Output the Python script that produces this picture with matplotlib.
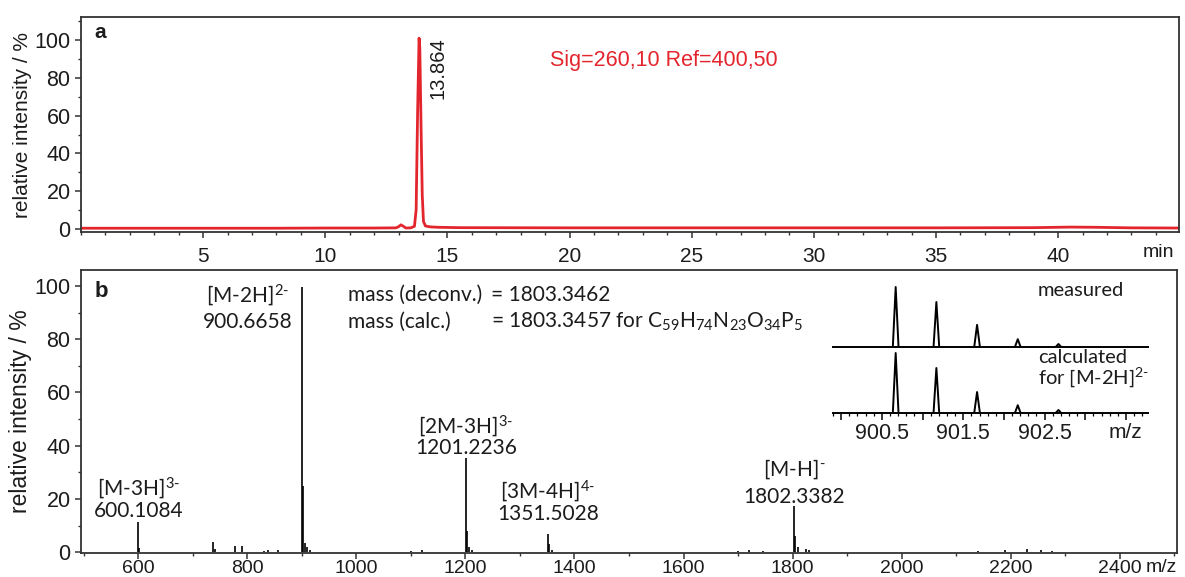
import numpy as np
import matplotlib.pyplot as plt
from matplotlib.ticker import MultipleLocator

plt.rcParams['font.family'] = ['Liberation Sans', 'DejaVu Sans']
plt.rcParams['mathtext.fontset'] = 'custom'
plt.rcParams['mathtext.rm'] = 'Lato'
plt.rcParams['mathtext.it'] = 'Lato:italic'
plt.rcParams['mathtext.bf'] = 'Lato:bold'

# chromatogram (panel a)
rt = [0, 2, 5, 8, 10, 12, 12.9, 13.0, 13.1, 13.2, 13.3, 13.5, 13.65, 13.72, 13.78,
      13.84, 13.87, 13.92, 13.97, 14.02, 14.1, 14.3, 14.6, 15.5, 20, 25, 30, 35,
      39, 40.5, 41.5, 43, 45]
uv = [0.4, 0.4, 0.4, 0.4, 0.5, 0.5, 0.6, 1.2, 2.2, 1.4, 0.5, 0.6, 1.4, 10, 62,
      101, 96, 55, 18, 4, 1.6, 1.1, 0.9, 0.7, 0.6, 0.6, 0.6, 0.6, 0.7, 1.0, 0.9, 0.6, 0.5]
rt_peak = 13.864

# mass spectrum (panel b), centroid sticks
ms_mz = [600.11, 602, 737, 741, 778, 790, 830, 838, 856, 900.67, 903, 906, 910, 915,
         1100, 1120, 1201.22, 1203, 1207, 1212, 1351.50, 1354, 1358, 1700, 1720, 1745,
         1802.34, 1805, 1810, 1825, 1830, 2140, 2190, 2230, 2255, 2275]
ms_int = [11.5, 1.5, 3.7, 1.2, 2.3, 2.3, 0.6, 0.9, 0.8, 99.5, 25, 3.5, 2.0, 1.0,
          0.5, 0.8, 35.5, 8, 2, 1, 7, 3, 1, 0.5, 0.8, 0.6,
          17.2, 6, 2, 1.2, 1.0, 0.5, 0.8, 1.2, 1.0, 0.5]

ion_mz = [600.1084, 900.6658, 1201.2236, 1351.5028, 1802.3382]
ion_name = [r'[M-3H]$^{3\text{-}}$', r'[M-2H]$^{2\text{-}}$', r'[2M-3H]$^{3\text{-}}$',
            r'[3M-4H]$^{4\text{-}}$', r'[M-H]$^{\text{-}}$']
ion_x = [600.1, 800, 1201.2, 1351.5, 1802.3]
ion_y = [24, 96.6, 47.2, 22.8, 31]
ion_y2 = [15.4, 86.5, 39.3, 14.2, 20.6]

# isotope pattern inset
iso_mz = [900.67, 901.17, 901.67, 902.17, 902.67]
iso_meas = [100, 75, 37, 13, 5]
iso_calc = [100, 75, 35, 13, 5]

red = '#e3262e'
ink = '#1c1c1c'

fig = plt.figure(figsize=(11.85, 5.77), dpi=100)
ax1 = fig.add_axes([81/1185, 1-232/577, 1098/1185, 215/577])
ax2 = fig.add_axes([81/1185, 1-553/577, 1096/1185, 283/577])

for ax in (ax1, ax2):
    for s in ax.spines.values():
        s.set_linewidth(1.3)
        s.set_color('#333333')
    ax.tick_params(which='major', direction='out', length=4.5, width=1.1, color='#333333',
                   labelcolor=ink, top=False, right=False)
    ax.tick_params(which='minor', direction='out', length=2.5, width=1.0, color='#333333',
                   top=False, right=False)

# ---- panel a
ax1.plot(rt, uv, color=red, lw=2.0)
ax1.set_xlim(0, 44.95)
ax1.set_ylim(-1.6, 112.2)
ax1.xaxis.set_major_locator(MultipleLocator(5))
ax1.xaxis.set_minor_locator(MultipleLocator(1))
ax1.yaxis.set_major_locator(MultipleLocator(20))
ax1.yaxis.set_minor_locator(MultipleLocator(10))
ax1.set_xticks([5, 10, 15, 20, 25, 30, 35, 40])
ax1.tick_params(axis='x', labelsize=15, pad=6)
ax1.tick_params(axis='y', labelsize=15.5, pad=3)
ax1.set_ylabel('relative intensity / %', fontsize=15, color=ink, labelpad=2)
ax1.text(0.012, 0.93, 'a', transform=ax1.transAxes, fontsize=15, fontweight='bold',
         color=ink, va='center')
ax1.text(rt_peak + 0.35, 101.5, f'{rt_peak:.3f}', rotation=90, ha='left', va='top',
         fontsize=14.5, color=ink)
ax1.text(19.2, 89, 'Sig=260,10 Ref=400,50', color=red, fontsize=15.5, va='center')
ax1.text(44.1, -12.2, 'min', fontsize=14, color=ink, ha='center', va='center')

# ---- panel b
ax2.vlines(ms_mz, 0, ms_int, color='black', lw=1.2)
ax2.set_xlim(495, 2505)
ax2.set_ylim(-0.3, 106)
ax2.xaxis.set_major_locator(MultipleLocator(200))
ax2.xaxis.set_minor_locator(MultipleLocator(100))
ax2.yaxis.set_major_locator(MultipleLocator(20))
ax2.yaxis.set_minor_locator(MultipleLocator(10))
ax2.set_xticks(np.arange(600, 2401, 200))
ax2.tick_params(axis='x', labelsize=14, pad=0.5)
ax2.tick_params(axis='y', labelsize=15.5, pad=3)
ax2.set_ylabel('relative intensity / %', fontsize=16.5, color=ink, labelpad=2)
ax2.text(0.012, 0.925, 'b', transform=ax2.transAxes, fontsize=16, fontweight='bold',
         color=ink, va='center')
ax2.text(2477, -5.6, 'm/z', fontsize=14, color=ink, ha='center', va='center')

lab = dict(fontsize=15, color=ink, family='Lato', ha='center', va='center')
for x, name, m, y1, y2 in zip(ion_x, ion_name, ion_mz, ion_y, ion_y2):
    ax2.text(x, y1, name, **lab)
    ax2.text(x, y2, f'{m:.4f}', **lab)

left = dict(fontsize=15, color=ink, family='Lato', ha='left', va='center')
ax2.text(984, 96.6, 'mass (deconv.)', **left)
ax2.text(1247, 96.6, '= 1803.3462', **left)
ax2.text(984, 86.5, 'mass (calc.)', **left)
ax2.text(1247, 86.5, '= 1803.3457 for C$_{59}$H$_{74}$N$_{23}$O$_{34}$P$_{5}$', **left)

# ---- inset: isotope pattern
axm = fig.add_axes([833/1185, 1-347/577, 315/1185, 67/577])
axc = fig.add_axes([833/1185, 1-413/577, 315/1185, 63/577])
w = 0.035
for ax, vals, top in ((axm, iso_meas, 111.7), (axc, iso_calc, 105)):
    for m, h in zip(iso_mz, vals):
        ax.plot([m - w, m, m + w], [0, h, 0], color='black', lw=1.4)
    ax.set_xlim(899.9, 903.77)
    ax.set_ylim(0, top)
    ax.patch.set_alpha(0)
    for s in ('top', 'right', 'left'):
        ax.spines[s].set_visible(False)
    ax.spines['bottom'].set_linewidth(1.4)
    ax.set_yticks([])
axm.set_xticks([])
axc.xaxis.set_major_locator(MultipleLocator(0.5))
axc.xaxis.set_minor_locator(MultipleLocator(0.1))
axc.tick_params(which='major', direction='out', length=5, width=1.1, labelsize=15.5,
                pad=2, labelcolor=ink)
axc.tick_params(which='minor', direction='out', length=2.5, width=0.9)
axc.set_xticks([900.0, 900.5, 901.0, 901.5, 902.0, 902.5, 903.0, 903.5])
axc.set_xticklabels(['', '900.5', '', '901.5', '', '902.5', '', ''])
axc.text(903.49, -33, 'm/z', fontsize=15, color=ink, ha='center', va='center')

ins = dict(fontsize=14.5, color=ink, family='Lato', ha='left', va='center')
axm.text(902.42, 94, 'measured', **ins)
axc.text(902.42, 73, 'calculated\n' + r'for [M-2H]$^{2\text{-}}$', linespacing=0.95, **ins)

fig.savefig('out.png', dpi=100)
